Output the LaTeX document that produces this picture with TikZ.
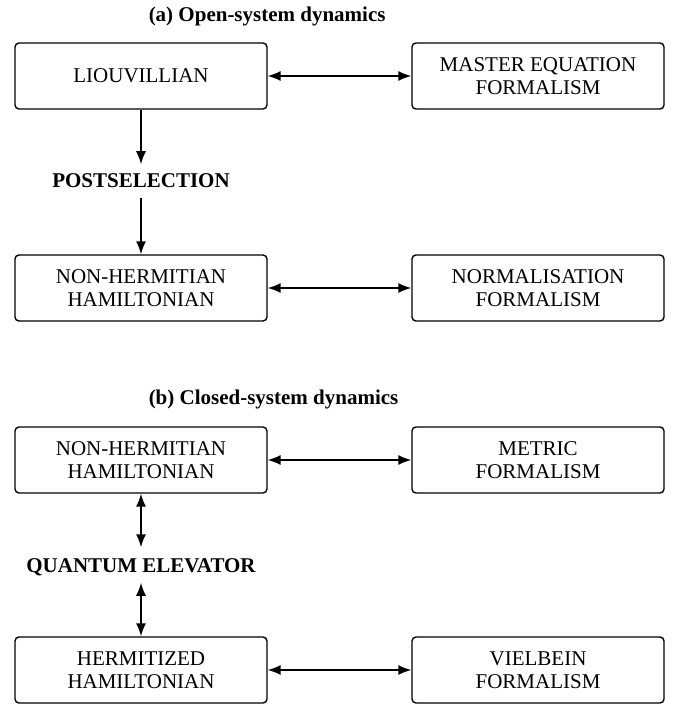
\documentclass[tikz,border=0pt]{standalone}
\usepackage{fontspec}
\setmainfont{Liberation Serif}
\usetikzlibrary{arrows.meta}
\tikzset{
  box/.style={draw, rounded corners=2pt, line width=0.7pt, minimum width=126pt, minimum height=33pt,
    inner sep=0pt, align=center, font=\fontsize{10.5}{11.5}\selectfont},
  lbl/.style={inner sep=0pt, text height=7pt, text depth=0pt, font=\fontsize{10.5}{12}\selectfont\bfseries},
  ttl/.style={anchor=base west, inner sep=0pt, font=\fontsize{10.5}{12}\selectfont\bfseries}
}
\begin{document}
\begin{tikzpicture}[x=0.5pt, y=-0.5pt, line width=0.75pt, >={Latex[length=6.5pt,width=5pt]}]
\useasboundingbox (0,0) rectangle (681,705);
% (a) open system
\node [ttl] (ttla) at (148,22) {(a) Open-system dynamics};
\node [box] (liou) at (141,76) {LIOUVILLIAN};
\node [box] (master) at (538,76) {MASTER EQUATION\\FORMALISM};
\node [lbl, minimum height=16pt] (post) at (141,181) {POSTSELECTION};
\node [box] (nhopen) at (141,288) {NON-HERMITIAN\\HAMILTONIAN};
\node [box] (norm) at (538,288) {NORMALISATION\\FORMALISM};
\draw [->] (liou) -- (post);
\draw [->] (post) -- (nhopen);
\draw [<->] (liou) -- (master);
\draw [<->] (nhopen) -- (norm);
% (b) closed system
\node [ttl] (ttlb) at (148,404) {(b) Closed-system dynamics};
\node [box] (nhclosed) at (141,460) {NON-HERMITIAN\\HAMILTONIAN};
\node [box] (metric) at (538,460) {METRIC\\FORMALISM};
\node [lbl, minimum height=17pt] (elev) at (141,565) {QUANTUM ELEVATOR};
\node [box] (herm) at (141,670) {HERMITIZED\\HAMILTONIAN};
\node [box] (viel) at (538,670) {VIELBEIN\\FORMALISM};
\draw [<->] (nhclosed) -- (elev);
\draw [<->] (elev) -- (herm);
\draw [<->] (nhclosed) -- (metric);
\draw [<->] (herm) -- (viel);
\end{tikzpicture}
\end{document}
